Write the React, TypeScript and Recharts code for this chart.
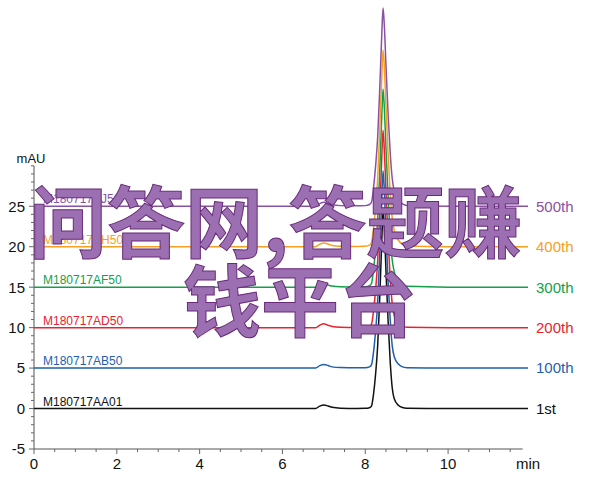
import {
  ComposedChart,
  Line,
  XAxis,
  YAxis,
  ReferenceLine,
  ReferenceDot,
} from "recharts";

// retention time, min
const times = [
  0, 2, 4, 6, 6.8, 6.9, 7.0, 7.1, 7.2, 7.4, 7.8, 8.0, 8.1, 8.15, 8.2, 8.25, 8.3, 8.35, 8.4,
  8.43, 8.46, 8.5, 8.55, 8.6, 8.65, 8.7, 8.8, 8.9, 9.0, 10, 11, 11.93,
];

// absorbance (mAU), raw per injection
const aa01 = [0, 0, 0, 0, 0, 0.3, 0.45, 0.32, 0.15, 0.05, 0.02, 0.03, 0.1, 0.3, 1.8, 4.3, 7.8, 13.8, 20.8, 24.5, 22.2, 17, 11, 6, 2.6, 1.2, 0.4, 0.12, 0.05, 0, 0, 0];
const ab50 = [0, 0, 0, 0, 0, 0.3, 0.45, 0.32, 0.15, 0.06, 0.03, 0.04, 0.15, 0.4, 2.0, 4.6, 8.2, 14.2, 21, 24.4, 22, 16.8, 10.8, 6.2, 2.8, 1.4, 0.5, 0.15, 0.05, 0, 0, 0];
const ad50 = [0, 0, 0, 0, 0, 0.3, 0.48, 0.3, 0.15, 0.06, 0.03, 0.05, 0.15, 0.4, 2.1, 4.7, 8.3, 14.3, 21.2, 24.4, 22, 16.9, 11, 6.3, 3.0, 1.5, 0.5, 0.15, 0.05, 0, 0, 0];
const af50 = [0, 0, 0, 0, 0, 0.25, 0.38, 0.28, 0.14, 0.06, 0.03, 0.05, 0.18, 0.45, 2.2, 4.8, 8.4, 14.4, 21.3, 24.5, 22.2, 17.2, 11.4, 6.6, 3.4, 1.9, 0.7, 0.25, 0.1, 0, 0, 0];
const ah50 = [0, 0, 0, 0, 0, 0.3, 0.45, 0.33, 0.16, 0.07, 0.04, 0.06, 0.2, 0.5, 2.3, 4.9, 8.5, 14.5, 21.2, 24.3, 22.3, 17.4, 11.6, 6.8, 3.6, 2.0, 0.8, 0.3, 0.1, 0, 0, 0];
const aj50 = [0, 0, 0, 0, 0, 0.32, 0.5, 0.35, 0.18, 0.08, 0.05, 0.08, 0.22, 0.5, 2.3, 5.0, 8.6, 14.6, 21.4, 24.5, 22.4, 17.4, 11.6, 6.8, 3.5, 1.9, 0.8, 0.3, 0.1, 0, 0, 0];

const sampleNames = ["M180717AA01", "M180717AB50", "M180717AD50", "M180717AF50", "M180717AH50", "M180717AJ50"];
const injectionLabels = ["1st", "100th", "200th", "300th", "400th", "500th"];
const offsets = [0, 5, 10, 15, 20, 25];
const colors = ["#111111", "#1f5fae", "#e8232f", "#14a04a", "#f7a021", "#8a52a4"];
const series = [aa01, ab50, ad50, af50, ah50, aj50];

const xMajor = [0, 2, 4, 6, 8, 10];
const xTicks = Array.from({ length: 24 }, (_, i) => i * 0.5);
const yMajor = [-5, 0, 5, 10, 15, 20, 25];
const yTicks = Array.from({ length: 36 }, (_, i) => i - 5);

const data = times.map((t, i) => {
  const row: Record<string, number> = { t };
  series.forEach((s, k) => {
    row[`s${k}`] = s[i] + offsets[k];
  });
  return row;
});

const FONT = '"Liberation Sans", Arial, Helvetica, sans-serif';

function XTick({ x, y, payload }: any) {
  const major = xMajor.includes(payload.value);
  return (
    <g>
      <line x1={x} x2={x} y1={y} y2={y + (major ? 5 : 3)} stroke="#666" />
      {major && (
        <text x={x} y={y + 20} textAnchor="middle" fontSize={15} fill="#111" fontFamily={FONT}>
          {payload.value}
        </text>
      )}
    </g>
  );
}

function YTick({ x, y, payload }: any) {
  const major = yMajor.includes(payload.value);
  return (
    <g>
      <line x1={x - (major ? 5 : 3)} x2={x} y1={y} y2={y} stroke="#666" />
      {major && (
        <text x={x - 9} y={y} dy="0.36em" textAnchor="end" fontSize={15} fill="#111" fontFamily={FONT}>
          {payload.value}
        </text>
      )}
    </g>
  );
}

export default function App() {
  const last = times.length - 1;
  return (
    <div style={{ position: "absolute", left: 0, top: 0, width: 600, height: 504, background: "#fff" }}>
      <ComposedChart width={600} height={504} data={data} margin={{ top: 4, right: 72, bottom: 25, left: 0 }}>
        <XAxis
          dataKey="t"
          type="number"
          domain={[0, 11.93]}
          ticks={xTicks}
          interval={0}
          axisLine={false}
          tickLine={false}
          tickSize={0}
          tickMargin={0}
          tick={<XTick />}
          height={30}
        />
        <YAxis
          type="number"
          domain={[-5, 50]}
          ticks={yTicks}
          interval={0}
          axisLine={false}
          tickLine={false}
          tickSize={0}
          tickMargin={0}
          tick={<YTick />}
          width={34}
        />
        <ReferenceLine segment={[{ x: 0, y: -5 }, { x: 0, y: 30 }]} stroke="#555" ifOverflow="visible" />
        <ReferenceLine segment={[{ x: 0, y: -5 }, { x: 11.8, y: -5 }]} stroke="#555" ifOverflow="visible" />
        {series.map((s, k) => (
          <Line
            key={k}
            type="monotone"
            dataKey={`s${k}`}
            stroke={colors[k]}
            strokeWidth={1.5}
            dot={false}
            activeDot={false}
            isAnimationActive={false}
          />
        ))}
        {series.map((s, k) => (
          <ReferenceDot
            key={`l${k}`}
            x={times[0]}
            y={s[0] + offsets[k]}
            r={0}
            stroke="none"
            fill="none"
            label={(p: any) => (
              <text x={p.viewBox.x + 9} y={p.viewBox.y - 3} fontSize={12} fill={colors[k]} fontFamily={FONT}>
                {sampleNames[k]}
              </text>
            )}
          />
        ))}
        {series.map((s, k) => (
          <ReferenceDot
            key={`r${k}`}
            x={times[last]}
            y={s[last] + offsets[k]}
            r={0}
            stroke="none"
            fill="none"
            label={(p: any) => (
              <text x={p.viewBox.x + 8} y={p.viewBox.y} dy="0.36em" fontSize={15} fill={colors[k]} fontFamily={FONT}>
                {injectionLabels[k]}
              </text>
            )}
          />
        ))}
      </ComposedChart>
      <svg width={600} height={504} style={{ position: "absolute", left: 0, top: 0, pointerEvents: "none" }}>
        <text x={31} y={163} textAnchor="middle" fontSize={13} fill="#111" fontFamily={FONT}>mAU</text>
        <text x={528} y={469} textAnchor="middle" fontSize={15} fill="#111" fontFamily={FONT}>min</text>
        <g fontFamily='"Noto Sans CJK SC", sans-serif' fontWeight={700} fontSize={78} fill="#9b6fb1" stroke="#6a2a7a" strokeWidth={1}>
          <text x={29} y={252}>问答网,答题赚</text>
          <text x={183} y={331}>钱平台</text>
        </g>
      </svg>
    </div>
  );
}
